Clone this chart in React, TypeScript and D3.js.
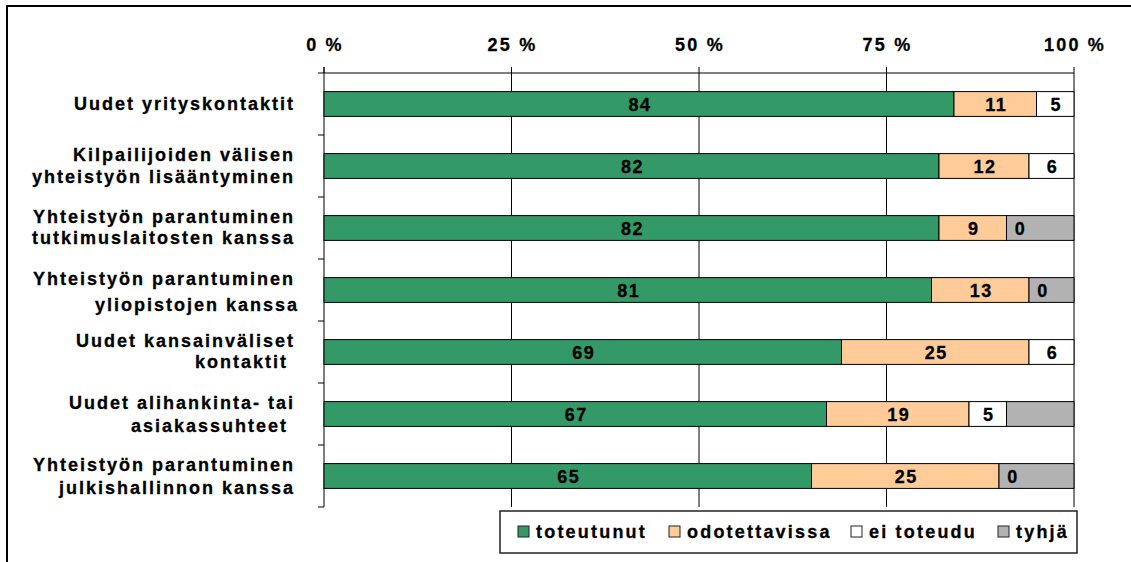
import React from "react";
import * as d3 from "d3";

const categories = [
  ["Uudet yrityskontaktit"],
  ["Kilpailijoiden välisen", "yhteistyön lisääntyminen"],
  ["Yhteistyön parantuminen", "tutkimuslaitosten kanssa"],
  ["Yhteistyön parantuminen", "yliopistojen kanssa"],
  ["Uudet kansainväliset", "kontaktit "],
  ["Uudet alihankinta- tai", "asiakassuhteet "],
  ["Yhteistyön parantuminen", "julkishallinnon kanssa"],
];
const toteutunut = [84, 82, 82, 81, 69, 67, 65];
const odotettavissa = [11, 12, 9, 13, 25, 19, 25];
const eiToteudu = [5, 6, 0, 0, 6, 5, 0];
const tyhja = [0, 0, 9, 6, 0, 9, 10];
const seriesNames = ["toteutunut", "odotettavissa", "ei toteudu", "tyhjä"];
const seriesKeys = ["a", "b", "c", "d"];
const colors = ["#339966", "#FFCC99", "#FFFFFF", "#B2B2B2"];
const showLabel = [true, true, true, false];
const tickValues = [0, 25, 50, 75, 100];

const font = "'Liberation Sans', Arial, sans-serif";

export default function App() {
  const width = 1131;
  const height = 562;
  const left = 324;
  const right = 1074;
  const top = 73;
  const bottom = 507;

  const rows = categories.map((c, i) => ({
    i: String(i),
    a: toteutunut[i],
    b: odotettavissa[i],
    c: eiToteudu[i],
    d: tyhja[i],
  }));
  const stacked = d3.stack<any>().keys(seriesKeys)(rows);

  const x = d3.scaleLinear().domain([0, 100]).range([left, right]);
  const y = d3
    .scaleBand()
    .domain(rows.map((r) => r.i))
    .range([top, bottom])
    .paddingInner(0.6)
    .paddingOuter(0.3);
  const yOuter = d3.scaleBand().domain(rows.map((r) => r.i)).range([top, bottom]);
  const bandEdges = [...rows.map((r) => yOuter(r.i)!), bottom];

  // second line of the 4th label sits a bit lower in the original
  const lineGaps = [22, 22, 21, 26, 21, 23, 23];
  const legendX = [518, 669, 851, 998];
  // slight stroke to mimic the heavy bold of the original
  const heavy = { stroke: "#000", strokeWidth: 0.3 };

  return (
    <svg
      width={width}
      height={height}
      style={{ position: "absolute", left: 0, top: 0, display: "block", background: "#fff" }}
      fontFamily={font}
      fontWeight="bold"
    >
      {/* outer frame */}
      <rect x={7} y={6} width={width + 20} height={height + 20} fill="none" stroke="#000" strokeWidth={2} />

      {/* gridlines */}
      {tickValues.slice(1).map((t) => (
        <line key={"g" + t} x1={x(t)} x2={x(t)} y1={top} y2={bottom} stroke="#000" strokeWidth={1} />
      ))}
      {/* top axis */}
      <line x1={left} x2={right} y1={top} y2={top} stroke="#000" />
      {tickValues.map((t) => (
        <g key={"t" + t}>
          <line x1={x(t)} x2={x(t)} y1={top - 6} y2={top} stroke="#000" />
          <text
            x={x(t) + 1}
            y={45}
            textAnchor="middle"
            dominantBaseline="central"
            fontSize={18}
            letterSpacing={2.2}
            {...heavy}
          >
            {t + " %"}
          </text>
        </g>
      ))}
      {/* left axis */}
      <line x1={left} x2={left} y1={top - 6} y2={bottom} stroke="#000" />
      {bandEdges.map((e, k) => (
        <line key={"lt" + k} x1={left - 6} x2={left} y1={e} y2={e} stroke="#000" />
      ))}

      {/* bars */}
      {stacked.map((s, si) => (
        <g key={s.key}>
          {s.map((d, i) => {
            const w = x(d[1]) - x(d[0]);
            return w > 0 ? (
              <rect
                key={i}
                x={x(d[0])}
                y={y(String(i))}
                width={w}
                height={y.bandwidth()}
                fill={colors[si]}
                stroke="#000"
                strokeWidth={1}
              />
            ) : null;
          })}
        </g>
      ))}

      {/* value labels */}
      {stacked.map((s, si) =>
        showLabel[si]
          ? s.map((d, i) => {
              const v = d[1] - d[0];
              const cx = v > 0 ? (x(d[0]) + x(d[1])) / 2 : x(d[0]) + 13;
              return (
                <text
                  key={s.key + i}
                  x={cx + 1}
                  y={y(String(i))! + y.bandwidth() / 2 + 1}
                  textAnchor="middle"
                  dominantBaseline="central"
                  fontSize={18}
                  letterSpacing={1.6}
                  {...heavy}
                >
                  {v}
                </text>
              );
            })
          : null
      )}

      {/* category labels */}
      {categories.map((lines, i) => {
        const c = yOuter(String(i))! + yOuter.bandwidth() / 2;
        const gap = lineGaps[i];
        const first = lines.length > 1 ? c - 11 : c;
        return (
          <text
            key={"c" + i}
            textAnchor="end"
            fontSize={18}
            letterSpacing={2}
            style={{ whiteSpace: "pre" }}
            {...heavy}
          >
            {lines.map((l, k) => (
              <tspan key={k} x={i === 3 && k === 1 ? 299 : 295} y={first + k * gap} dominantBaseline="central">
                {l}
              </tspan>
            ))}
          </text>
        );
      })}

      {/* legend */}
      <rect x={500} y={511} width={577} height={42} fill="#fff" stroke="#222" strokeWidth={1.5} />
      {seriesNames.map((n, k) => (
        <g key={n}>
          <rect x={legendX[k]} y={526} width={11} height={11} fill={colors[k]} stroke="#222" strokeWidth={1} />
          <text
            x={legendX[k] + 18}
            y={532}
            dominantBaseline="central"
            fontSize={18}
            letterSpacing={2.2}
            {...heavy}
          >
            {n}
          </text>
        </g>
      ))}
    </svg>
  );
}
